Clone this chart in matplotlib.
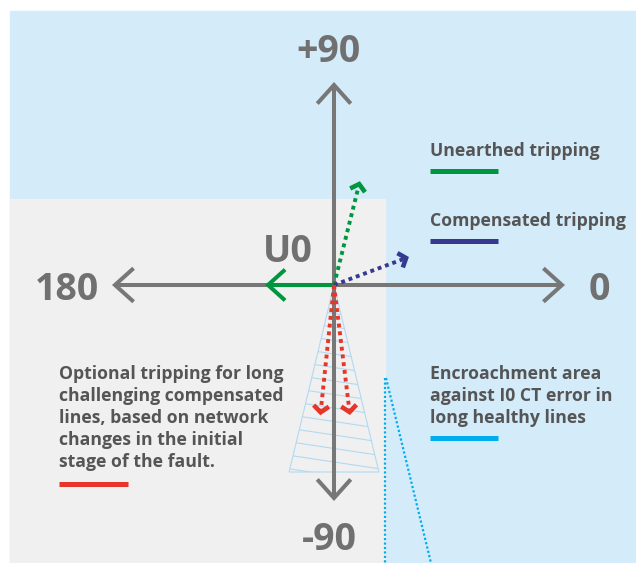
import numpy as np
import matplotlib.pyplot as plt
from matplotlib.patches import Rectangle, Polygon

plt.rcParams['font.family'] = ['Open Sans', 'DejaVu Sans']

# colours
GREEN = '#00963f'
BLUE = '#363a8f'
RED = '#e8352a'
CYAN = '#00aeef'
AXIS = '#777777'
LABEL = '#707070'
TEXT = '#555555'
SKY = '#d4ebf9'
PAPER = '#f0f0f0'

# diagram in pixel units, origin of the phasor cross
origin = (334, 285)

# axis arms: angle (deg), length
axis_angles = [0, 90, 180, -90]
axis_lengths = [228, 200, 219, 213]
axis_labels = ['0', '+90', '180', '-90']
label_dx = [265, -6, -267, -5]
label_dy = [15, -223, 15, 265]  # baseline offsets

# phasors
vec_angles = [180, 76, 20.5, -96, -83]
vec_lengths = [66, 104, 77, 128, 128]
vec_colors = [GREEN, GREEN, BLUE, RED, RED]
vec_dotted = [False, True, True, True, True]

# optional-tripping sector (hatched wedge)
sector_half = 13.5
sector_depth = 187

# legend blocks: lines of text, first baseline, bar colour, bar y
legend_x = 430
legend_text = [['Unearthed tripping'],
               ['Compensated tripping'],
               ['Encroachment area', 'against I0 CT error in', 'long healthy lines']]
legend_base = [156, 226, 379]
legend_bar = [171, 241, 438]
legend_col = [GREEN, BLUE, CYAN]

note_x = 59
note_text = ['Optional tripping for long', 'challenging compensated',
             'lines, based on network', 'changes in the initial',
             'stage of the fault.']
note_base = 379
note_bar = 484
line_gap = 22


def polar(ang, r):
    a = np.radians(ang)
    return origin[0] + r * np.cos(a), origin[1] - r * np.sin(a)


def chevron(ax, ang, r, arm, spread, color, lw):
    tx, ty = polar(ang, r)
    a1 = np.radians(ang + 180 + spread)
    a2 = np.radians(ang + 180 - spread)
    ax.plot([tx + arm * np.cos(a1), tx, tx + arm * np.cos(a2)],
            [ty - arm * np.sin(a1), ty, ty - arm * np.sin(a2)],
            color=color, lw=lw, solid_capstyle='butt', solid_joinstyle='miter', zorder=5)


fig = plt.figure(figsize=(6.36, 5.63), dpi=100)
ax = fig.add_axes([0, 0, 1, 1])
ax.set_xlim(0, 636)
ax.set_ylim(563, 0)
ax.axis('off')

# backgrounds
ax.add_patch(Rectangle((10, 11), 626, 552, color=SKY, zorder=0))
ax.add_patch(Rectangle((10, 199), 375, 364, color=PAPER, zorder=0))

# hatched wedge
p1 = polar(-90 - sector_half, sector_depth / np.cos(np.radians(sector_half)))
p2 = polar(-90 + sector_half, sector_depth / np.cos(np.radians(sector_half)))
wedge = Polygon([origin, p1, p2], closed=True, fill=False, ec='#b3d9f2', lw=0.8, zorder=1)
ax.add_patch(wedge)
xs = np.array([p1[0] - 5, p2[0] + 5])
for y0 in np.arange(300, 480, 13.5):
    ln, = ax.plot(xs, y0 + 0.15 * (xs - origin[0]), color='#b3d9f2', lw=0.8, zorder=1)
    ln.set_clip_path(wedge)

# encroachment boundary (dotted)
ax.plot([385, 385], [378, 563], color=CYAN, lw=1.6, ls=(0, (1, 1)), dash_capstyle='butt', zorder=1)
ax.plot([386, 431], [378, 563], color=CYAN, lw=1.6, ls=(0, (1, 1)), dash_capstyle='butt', zorder=1)

# axes with open chevrons
for ang, r, lab, dx, dy in zip(axis_angles, axis_lengths, axis_labels, label_dx, label_dy):
    x, y = polar(ang, r)
    ax.plot([origin[0], x], [origin[1], y], color=AXIS, lw=2.9, solid_capstyle='butt', zorder=2)
    chevron(ax, ang, r, 25, 42, AXIS, 2.9)
    ax.text(origin[0] + dx, origin[1] + dy, lab, color=LABEL, fontsize=27,
            fontweight='bold', ha='center', va='baseline')

# phasors
for ang, r, c, dotted in zip(vec_angles, vec_lengths, vec_colors, vec_dotted):
    x, y = polar(ang, r)
    if dotted:
        ax.plot([origin[0], x], [origin[1], y], color=c, lw=2.8, ls=(0, (1, 1.0)),
                dash_capstyle='butt', zorder=4)
        chevron(ax, ang, r, 10, 50, c, 3.3)
    else:
        ax.plot([origin[0], x], [origin[1], y], color=c, lw=2.9, solid_capstyle='butt', zorder=4)
        chevron(ax, ang, r, 23, 42, c, 2.9)

ax.text(288, 262, 'U0', color=LABEL, fontsize=27, fontweight='bold', ha='center', va='baseline')

# legend blocks
for lines, base, bar, col in zip(legend_text, legend_base, legend_bar, legend_col):
    for i, t in enumerate(lines):
        ax.text(legend_x, base + i * line_gap, t, color=TEXT, fontsize=12.7,
                fontweight='bold', ha='left', va='baseline')
    ax.plot([legend_x, legend_x + 68], [bar, bar], color=col, lw=3.6, solid_capstyle='butt')

for i, t in enumerate(note_text):
    ax.text(note_x, note_base + i * line_gap, t, color=TEXT, fontsize=12.7,
            fontweight='bold', ha='left', va='baseline')
ax.plot([note_x, note_x + 69], [note_bar, note_bar], color=RED, lw=3.6, solid_capstyle='butt')

plt.savefig('out.png', dpi=100)
